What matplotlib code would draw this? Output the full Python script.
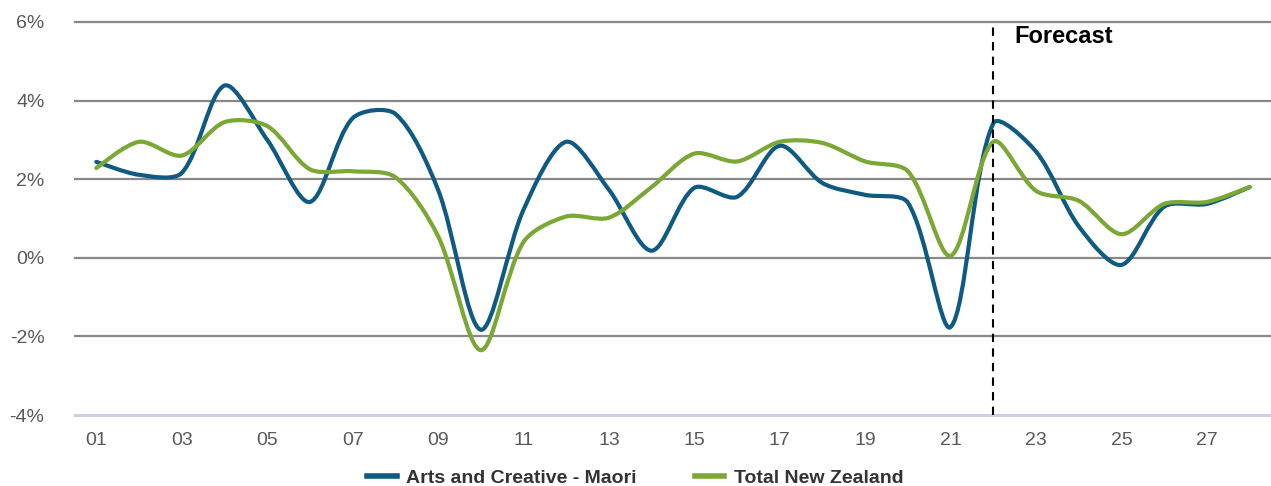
import matplotlib.pyplot as plt
import numpy as np
from matplotlib.path import Path
from matplotlib.patches import PathPatch
from matplotlib.lines import Line2D

plt.rcParams['font.family'] = ['Liberation Sans', 'DejaVu Sans']

years = list(range(1, 29))
tick_labels = ['%02d' % y for y in range(1, 28, 2)]
maori = [2.44, 2.11, 2.16, 4.38, 3.00, 1.42, 3.55, 3.66, 1.73, -1.83,
         1.22, 2.95, 1.73, 0.18, 1.78, 1.55, 2.85, 1.90, 1.60, 1.40,
         -1.76, 3.42, 2.70, 0.80, -0.18, 1.30, 1.37, 1.80]
total_nz = [2.28, 2.95, 2.60, 3.45, 3.35, 2.25, 2.20, 2.05, 0.55, -2.35,
            0.40, 1.05, 1.02, 1.80, 2.65, 2.45, 2.95, 2.92, 2.45, 2.20,
            0.05, 2.95, 1.70, 1.45, 0.60, 1.37, 1.42, 1.80]
forecast_year = 22

BLUE = '#0f5a82'
GREEN = '#7ba734'

# rough pixels per unit, used only to weight the smoothing handles
SX, SY = 42.8, 39.3


def smooth_path(x, y, tension=0.3):
    # smoothed line like excel: bezier segments, handles weighted by segment length
    pts = np.column_stack([x, y]).astype(float)
    scale = np.array([SX, SY])
    n = len(pts)

    def dist(a, b):
        return np.hypot(*((a - b) * scale))

    h_in = [np.zeros(2)] * n
    h_out = [np.zeros(2)] * n
    for i in range(n):
        a = pts[max(i - 1, 0)]
        b = pts[min(i + 1, n - 1)]
        d0 = dist(pts[i], a)
        d1 = dist(pts[i], b)
        tot = d0 + d1
        if tot == 0:
            continue
        t = (b - a) * tension
        if i == 0 or i == n - 1:
            h_in[i] = t * 0.25
            h_out[i] = t * 0.25
        else:
            h_in[i] = t * d0 / tot
            h_out[i] = t * d1 / tot
    verts = [pts[0]]
    codes = [Path.MOVETO]
    for i in range(n - 1):
        verts += [pts[i] + h_out[i], pts[i + 1] - h_in[i + 1], pts[i + 1]]
        codes += [Path.CURVE4] * 3
    return Path(verts, codes)


fig = plt.figure(figsize=(12.71, 4.86), dpi=100)
ax = fig.add_axes([0.059, 0.146, 0.941, 0.809])

for vals, col in [(maori, BLUE), (total_nz, GREEN)]:
    ax.add_patch(PathPatch(smooth_path(years, vals), facecolor='none',
                           edgecolor=col, lw=3.0, capstyle='round', zorder=3))

ax.set_xlim(0.5, 28.5)
ax.set_ylim(-4, 6)
ax.set_yticks(range(-4, 7, 2))
ax.set_yticklabels(['%d%%' % v for v in range(-4, 7, 2)])
ax.set_xticks(range(1, 28, 2))
ax.set_xticklabels(tick_labels)

for v in range(-2, 7, 2):
    ax.axhline(v, color='#888888', lw=1.6, zorder=1, clip_on=False)
ax.axhline(-4, color='#c9d1e3', lw=2.2, zorder=1, clip_on=False)

ax.axvline(forecast_year, color='black', lw=1.5, ls=(0, (4, 3)), zorder=4)
ax.text(forecast_year + 0.5, 5.62, 'Forecast', fontsize=17, fontweight='bold',
        ha='left', va='center')

for s in ax.spines.values():
    s.set_visible(False)
ax.tick_params(length=0, labelsize=14, labelcolor='#595959')
ax.tick_params(axis='y', pad=22)
ax.tick_params(axis='x', pad=12)

handles = [Line2D([], [], color=BLUE, lw=4), Line2D([], [], color=GREEN, lw=4)]
leg = fig.legend(handles, ['Arts and Creative - Maori', 'Total New Zealand'],
                 loc='center', bbox_to_anchor=(0.5, 0.017), ncol=2, frameon=False,
                 prop={'weight': 'bold', 'size': 14}, handlelength=1.5,
                 columnspacing=3.0, handletextpad=0.5)
for t in leg.get_texts():
    t.set_color('#333333')

fig.savefig('out.png', dpi=100)
